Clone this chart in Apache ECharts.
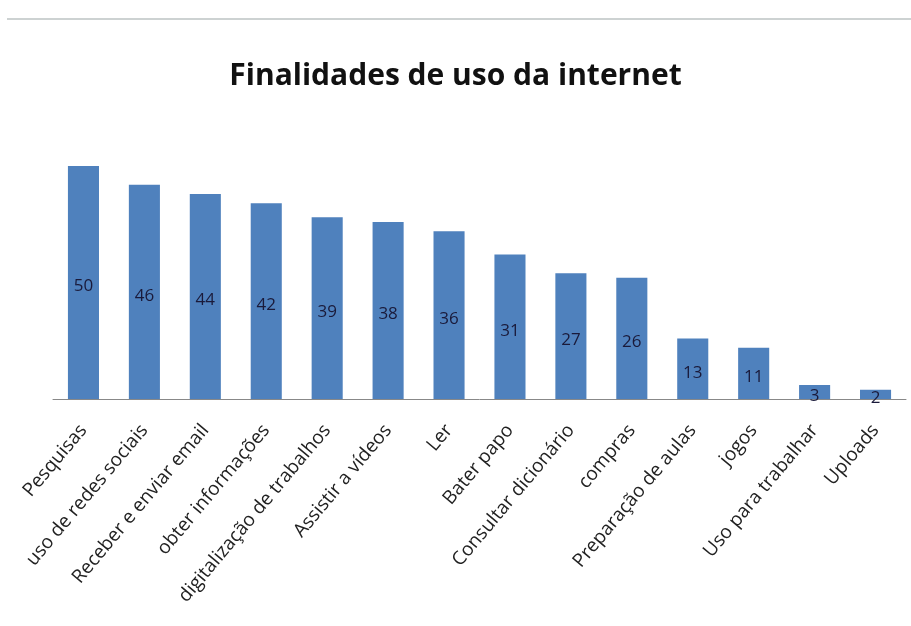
<!DOCTYPE html>
<html><head><meta charset="utf-8">
<script src="https://cdn.jsdelivr.net/npm/echarts@6/dist/echarts.min.js"></script>
<style>html,body{margin:0;padding:0;background:#fff}#c{width:911px;height:626px}</style>
</head><body><div id="c"></div>
<script>
const categories = ["Pesquisas","uso de redes sociais","Receber e enviar email","obter informações","digitalização de trabalhos","Assistir a vídeos","Ler","Bater papo","Consultar dicionário","compras","Preparação de aulas","jogos","Uso para trabalhar","Uploads"];
const values = [50,46,44,42,39,38,36,31,27,26,13,11,3,2];
const titleText = "Finalidades de uso da internet";

const chart = echarts.init(document.getElementById('c'));
chart.setOption({
  backgroundColor: '#fff',
  animation: false,
  title: {
    text: titleText, left: 'center', top: 56,
    textStyle: {fontFamily: 'Open Sans, sans-serif', fontSize: 30, fontWeight: 'bold', color: '#111'}
  },
  graphic: [
    {type: 'line', shape: {x1: 7, y1: 19, x2: 911, y2: 19}, style: {stroke: '#cdd2d2', lineWidth: 2}}
  ],
  grid: {left: 53, right: 5, top: 119.4, bottom: 626 - 399},
  xAxis: {
    type: 'category', data: categories,
    axisLine: {lineStyle: {color: '#888', width: 1}},
    axisTick: {show: false},
    axisLabel: {rotate: 50, interval: 0, fontFamily: 'Open Sans, sans-serif', fontSize: 19, color: '#222', margin: 28}
  },
  yAxis: {type: 'value', min: 0, max: 60, show: false, splitLine: {show: false}},
  series: [{
    type: 'bar', data: values, barWidth: '51%',
    itemStyle: {color: '#4F81BD'},
    label: {show: true, position: 'inside', offset: [0, 4], fontFamily: 'Open Sans, sans-serif', fontSize: 17, color: '#1a1a3a'}
  }]
});
</script></body></html>
